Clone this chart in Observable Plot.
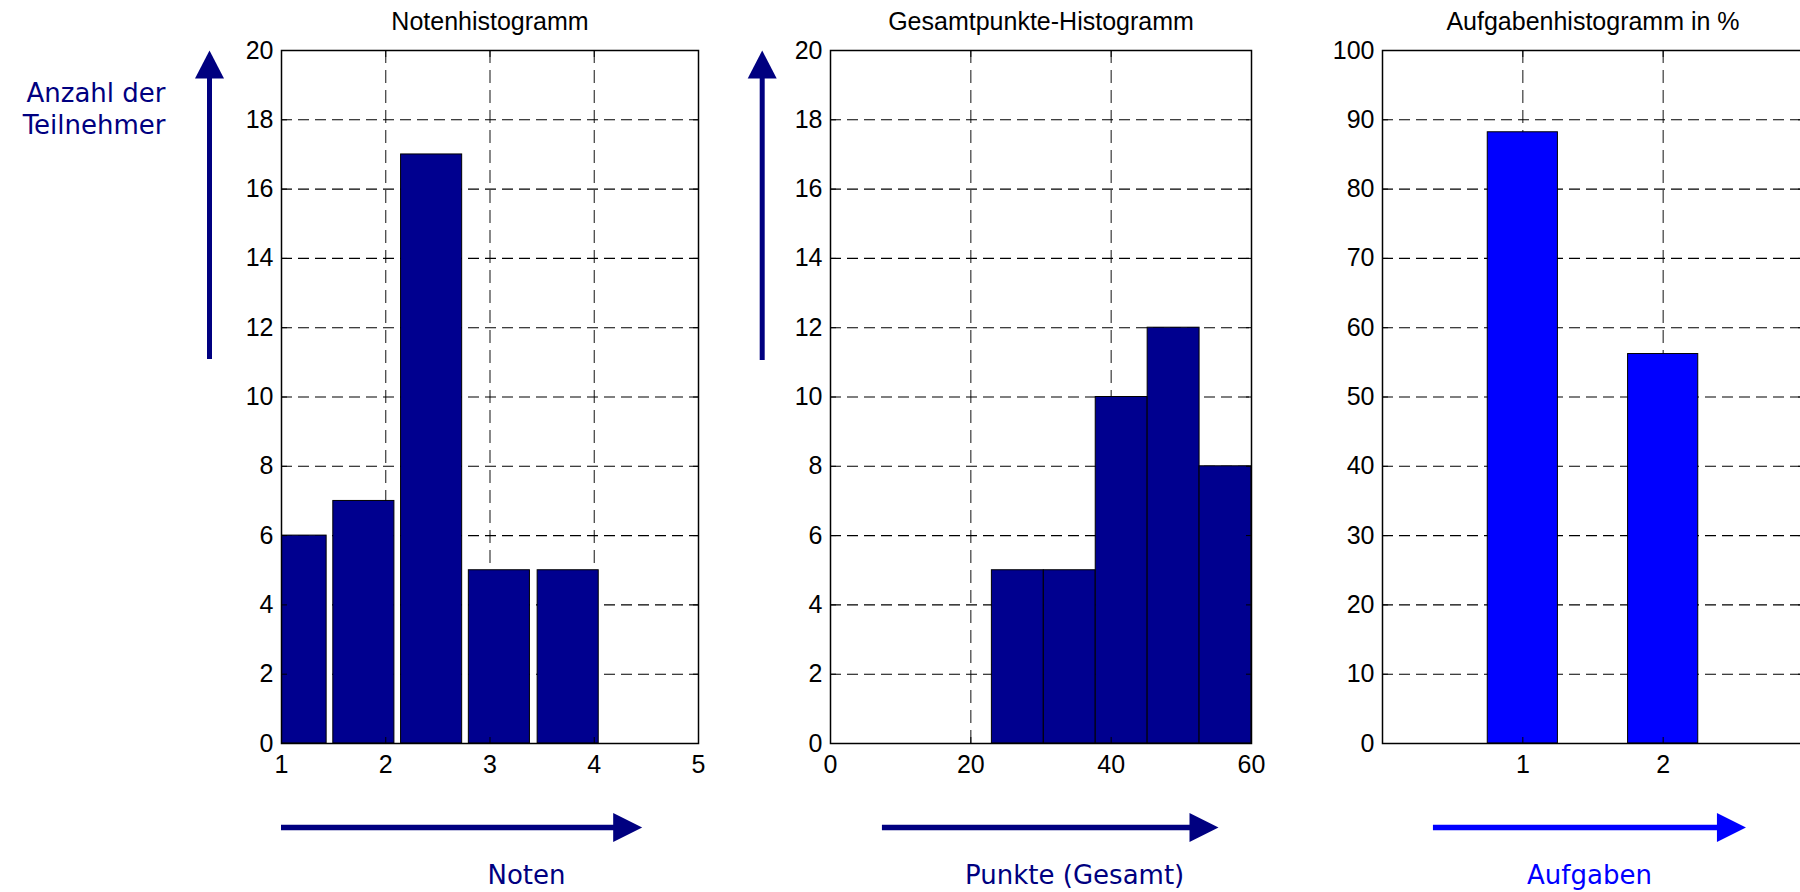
<!DOCTYPE html>
<html>
<head>
<meta charset="utf-8">
<script src="https://cdn.jsdelivr.net/npm/d3@7"></script>
<script src="https://cdn.jsdelivr.net/npm/@observablehq/plot@0.6"></script>
<style>
  html, body { margin: 0; padding: 0; background: #fff; overflow: hidden; }
  #wrap { position: relative; width: 1800px; height: 892px; overflow: hidden; background: #fff; }
  #wrap svg { position: absolute; top: 0; overflow: visible; }
</style>
</head>
<body>
<div id="wrap"></div>
<script>
// ---------- data ----------
const notenCenters   = [1.14, 1.79, 2.44, 3.09, 3.75, 4.40];
const notenCounts    = [6, 7, 17, 5, 5, 0];
const punkteCenters  = [26.7, 34.1, 41.5, 48.9, 56.3];
const punkteCounts   = [5, 5, 10, 12, 8];
const aufgabenNr     = [1, 2];
const aufgabenProzent = [88.2, 56.2];

const notenTicks    = [1, 2, 3, 4, 5];
const punkteTicks   = [0, 20, 40, 60];
const aufgabenTicks = [1, 2];
const countTicks    = [0, 2, 4, 6, 8, 10, 12, 14, 16, 18, 20];
const percentTicks  = [0, 10, 20, 30, 40, 50, 60, 70, 80, 90, 100];

const titles = ["Notenhistogramm", "Gesamtpunkte-Histogramm", "Aufgabenhistogramm in %"];
const xLabels = ["Noten", "Punkte (Gesamt)", "Aufgaben"];
const yLabel = "Anzahl der\nTeilnehmer";

// ---------- styling ----------
const NAVY = "#000080";
const BAR_DARK = "#00008F";
const BLUE = "#0000FF";
const TICK_FONT = "'Liberation Sans', Arial, Helvetica, sans-serif";
const LABEL_FONT = "'DejaVu Sans', Verdana, sans-serif";
const fmt = d => String(d);

const headUp = {draw(ctx) { ctx.moveTo(0, 0); ctx.lineTo(14.5, 28); ctx.lineTo(-14.5, 28); ctx.closePath(); }};
const headRight = {draw(ctx) { ctx.moveTo(0, 0); ctx.lineTo(-29, -14.5); ctx.lineTo(-29, 14.5); ctx.closePath(); }};

function makePanel(cfg) {
  const bars = cfg.xs.map((x, i) => ({x, v: cfg.vs[i]}));
  const [x0, x1] = cfg.xDomain;
  const [y0, y1] = cfg.yDomain;
  const marks = [
    Plot.gridY(cfg.yTicks.slice(1, -1), {stroke: "#000", strokeOpacity: 1, strokeWidth: 1.1, strokeDasharray: "11,6"}),
    Plot.gridX(cfg.xGrid, {stroke: "#000", strokeOpacity: 0.85, strokeWidth: 1.1, strokeDasharray: "13,7"}),
    Plot.rect(bars, {x1: d => d.x - cfg.barWidth / 2, x2: d => d.x + cfg.barWidth / 2, y1: 0, y2: "v",
      fill: cfg.fill, stroke: "#000", strokeWidth: 1, clip: true}),
    Plot.frame({stroke: "#000", strokeWidth: 1.5}),
    Plot.axisY(cfg.yTicks, {anchor: "left", tickSize: 0, tickPadding: 8, label: null, tickFormat: fmt}),
    Plot.axisY(cfg.yTicks, {anchor: "left", tickSize: -6, fill: "none", label: null}),
    Plot.axisY(cfg.yTicks, {anchor: "right", tickSize: -6, fill: "none", label: null}),
    Plot.axisX(cfg.xTicks, {anchor: "bottom", tickSize: 0, tickPadding: 12, label: null, tickFormat: fmt}),
    Plot.axisX(cfg.xTicks, {anchor: "bottom", tickSize: -6, fill: "none", label: null}),
    Plot.axisX(cfg.xTicks, {anchor: "top", tickSize: -6, fill: "none", label: null}),
    Plot.text([cfg.title], {text: d => d, frameAnchor: "top", dy: -29, lineAnchor: "middle",
      fontSize: 25, fontFamily: TICK_FONT, fill: "#000"}),
    // horizontal axis arrow + label
    Plot.ruleY([y0], {x1: cfg.hArrow[0], x2: cfg.hArrow[1] - (x1 - x0) * 0.05, dy: 84, stroke: cfg.accent, strokeWidth: 5.3}),
    Plot.dot([cfg.hArrow[1]], {x: d => d, y: y0, dy: 84, symbol: headRight, fill: cfg.accent, stroke: "none"}),
    Plot.text([cfg.xLabel], {text: d => d, x: cfg.xLabelAt, y: y0, dy: 131.7, lineAnchor: "middle",
      fontSize: 26, fontFamily: LABEL_FONT, fill: cfg.accent})
  ];
  if (cfg.vArrow) {
    marks.push(
      Plot.ruleX([x0], {y1: cfg.vArrow.from, y2: y1 - (y1 - y0) * 0.02, dx: cfg.vArrow.dx, stroke: cfg.accent, strokeWidth: 5}),
      Plot.dot([x0], {x: d => d, y: y1, dx: cfg.vArrow.dx, symbol: headUp, fill: cfg.accent, stroke: "none"})
    );
  }
  if (cfg.yLabel) {
    marks.push(Plot.text([cfg.yLabel], {text: d => d, frameAnchor: "top-left", dx: -116, dy: 29.5,
      textAnchor: "end", lineAnchor: "top", lineHeight: 1.215, fontSize: 26, fontFamily: LABEL_FONT, fill: cfg.accent}));
  }
  const svg = Plot.plot({
    width: cfg.width,
    height: 892,
    marginLeft: cfg.marginLeft,
    marginRight: cfg.width - cfg.marginLeft - cfg.frameWidth,
    marginTop: 50,
    marginBottom: 149,
    style: {fontFamily: TICK_FONT, fontSize: "25px", background: "transparent", overflow: "visible"},
    x: {domain: cfg.xDomain, label: null},
    y: {domain: cfg.yDomain, label: null},
    marks
  });
  svg.style.left = cfg.left + "px";
  document.getElementById("wrap").appendChild(svg);
}

makePanel({
  left: 0, width: 738, marginLeft: 281, frameWidth: 417,
  xDomain: [1, 5], xTicks: notenTicks, xGrid: [2, 3, 4],
  yDomain: [0, 20], yTicks: countTicks,
  xs: notenCenters, vs: notenCounts, barWidth: 0.586, fill: BAR_DARK,
  title: titles[0], xLabel: xLabels[0], xLabelAt: 3.35, accent: NAVY,
  hArrow: [1, 4.46], vArrow: {from: 11.08, dx: -72}, yLabel: yLabel
});

makePanel({
  left: 740, width: 541, marginLeft: 90, frameWidth: 421,
  xDomain: [0, 60], xTicks: punkteTicks, xGrid: [20, 40],
  yDomain: [0, 20], yTicks: countTicks,
  xs: punkteCenters, vs: punkteCounts, barWidth: 7.4, fill: BAR_DARK,
  title: titles[1], xLabel: xLabels[1], xLabelAt: 34.8, accent: NAVY,
  hArrow: [7.4, 55.3], vArrow: {from: 11.05, dx: -68.3}
});

makePanel({
  left: 1290, width: 533, marginLeft: 92, frameWidth: 421,
  xDomain: [0, 3], xTicks: aufgabenTicks, xGrid: [1, 2],
  yDomain: [0, 100], yTicks: percentTicks,
  xs: aufgabenNr, vs: aufgabenProzent, barWidth: 0.5, fill: BLUE,
  title: titles[2], xLabel: xLabels[2], xLabelAt: 1.475, accent: BLUE,
  hArrow: [0.363, 2.59]
});
</script>
</body>
</html>
